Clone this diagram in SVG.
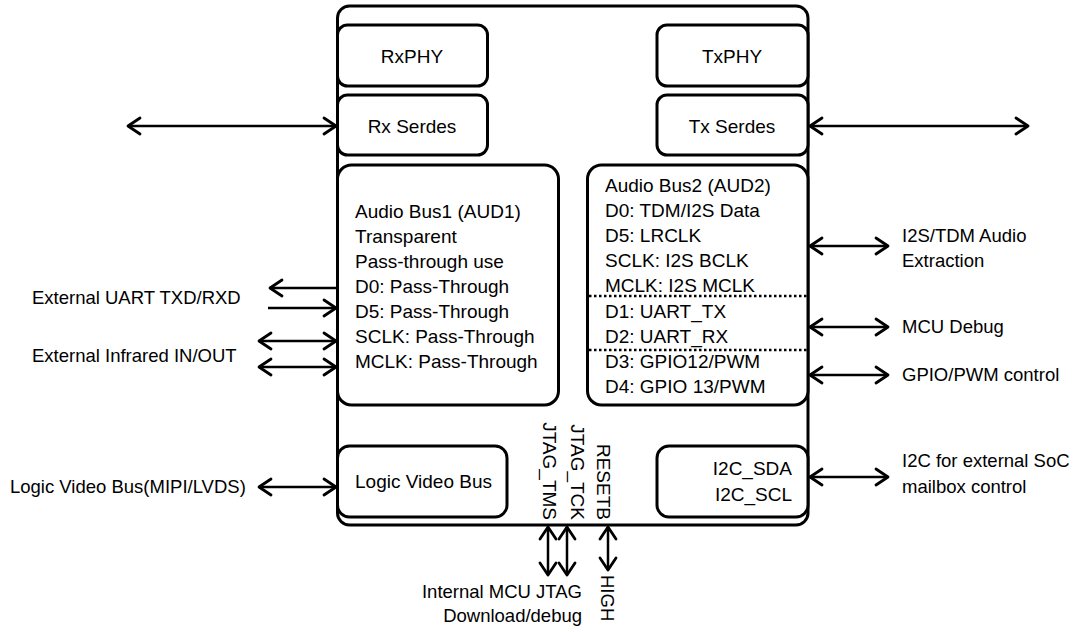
<svg xmlns="http://www.w3.org/2000/svg" width="1080" height="632" viewBox="0 0 1080 632">
  <style>
    .box { fill: #ffffff; stroke: #000000; stroke-width: 3; }
    .t { font-family: "Liberation Sans", Arial, sans-serif; font-size: 19px; fill: #000000; }
    .lbl { font-family: "Liberation Sans", Arial, sans-serif; font-size: 18.5px; fill: #000000; }
    .mid { text-anchor: middle; }
    .end { text-anchor: end; }
    .wire { stroke: #000000; stroke-width: 2.5; fill: none; }
    .dots { stroke: #000000; stroke-width: 2.5; stroke-dasharray: 2.5 2.5; fill: none; }
  </style>
  <defs>
    <!-- open chevron head; tip at (14,10) points along the line direction -->
    <marker id="head" viewBox="0 0 16 20" refX="14" refY="10" markerWidth="16" markerHeight="20" markerUnits="userSpaceOnUse" orient="auto-start-reverse">
      <path d="M2,2 L14,10 L2,18" fill="none" stroke="#000000" stroke-width="2.8" stroke-linecap="round" stroke-linejoin="round"/>
    </marker>
  </defs>

  <rect width="1080" height="632" fill="#ffffff"/>

  <!-- chip outline -->
  <g id="chip">
    <rect class="box" x="337.5" y="6" width="470.5" height="519" rx="12"/>
  </g>

  <g id="rxphy">
    <rect class="box" x="337.5" y="25" width="150" height="61" rx="10"/>
    <text class="t mid" x="412" y="63">RxPHY</text>
  </g>
  <g id="rxserdes">
    <rect class="box" x="337.5" y="95" width="150" height="60" rx="10"/>
    <text class="t mid" x="412" y="133">Rx Serdes</text>
  </g>
  <g id="txphy">
    <rect class="box" x="657" y="25" width="151" height="61" rx="10"/>
    <text class="t mid" x="732" y="63">TxPHY</text>
  </g>
  <g id="txserdes">
    <rect class="box" x="657" y="95" width="151" height="60" rx="10"/>
    <text class="t mid" x="732" y="133">Tx Serdes</text>
  </g>

  <g id="aud1">
    <rect class="box" x="337.5" y="165" width="221" height="240" rx="14"/>
    <text class="t" x="355" y="218">Audio Bus1 (AUD1)</text>
    <text class="t" x="355" y="243">Transparent</text>
    <text class="t" x="355" y="268">Pass-through use</text>
    <text class="t" x="355" y="293">D0: Pass-Through</text>
    <text class="t" x="355" y="318">D5: Pass-Through</text>
    <text class="t" x="355" y="343">SCLK: Pass-Through</text>
    <text class="t" x="355" y="368">MCLK: Pass-Through</text>
  </g>

  <g id="aud2">
    <rect class="box" x="587.5" y="165" width="220.5" height="240" rx="14"/>
    <text class="t" x="605" y="192">Audio Bus2 (AUD2)</text>
    <text class="t" x="605" y="217">D0: TDM/I2S Data</text>
    <text class="t" x="605" y="242">D5: LRCLK</text>
    <text class="t" x="605" y="267">SCLK: I2S BCLK</text>
    <text class="t" x="605" y="292">MCLK: I2S MCLK</text>
    <line class="dots" x1="589" y1="296" x2="807" y2="296"/>
    <text class="t" x="605" y="318">D1: UART_TX</text>
    <text class="t" x="605" y="343">D2: UART_RX</text>
    <line class="dots" x1="589" y1="350" x2="807" y2="350"/>
    <text class="t" x="605" y="368">D3: GPIO12/PWM</text>
    <text class="t" x="605" y="393">D4: GPIO 13/PWM</text>
  </g>

  <g id="videobus">
    <rect class="box" x="337.5" y="446" width="169.5" height="71" rx="12"/>
    <text class="t" x="355" y="488">Logic Video Bus</text>
  </g>

  <g id="i2c">
    <rect class="box" x="657" y="446" width="151" height="71" rx="12"/>
    <text class="t end" x="792" y="475">I2C_SDA</text>
    <text class="t end" x="792" y="501">I2C_SCL</text>
  </g>

  <!-- pin names along the bottom edge -->
  <g id="pins">
    <text class="t end" transform="translate(543,520) rotate(90)" x="0" y="0">JTAG_TMS</text>
    <text class="t end" transform="translate(571,520) rotate(90)" x="0" y="0">JTAG_TCK</text>
    <text class="t end" transform="translate(597,520) rotate(90)" x="0" y="0">RESETB</text>
  </g>

  <!-- connectors -->
  <g id="connectors">
    <line class="wire" x1="128" y1="126" x2="336" y2="126" marker-start="url(#head)" marker-end="url(#head)"/>
    <line class="wire" x1="810" y1="126" x2="1028" y2="126" marker-start="url(#head)" marker-end="url(#head)"/>

    <line class="wire" x1="270" y1="288" x2="336" y2="288" marker-start="url(#head)"/>
    <line class="wire" x1="268" y1="308" x2="336" y2="308" marker-end="url(#head)"/>
    <line class="wire" x1="259" y1="341" x2="336" y2="341" marker-start="url(#head)" marker-end="url(#head)"/>
    <line class="wire" x1="259" y1="367" x2="336" y2="367" marker-start="url(#head)" marker-end="url(#head)"/>
    <line class="wire" x1="259" y1="487" x2="336" y2="487" marker-start="url(#head)" marker-end="url(#head)"/>

    <line class="wire" x1="810" y1="246" x2="888" y2="246" marker-start="url(#head)" marker-end="url(#head)"/>
    <line class="wire" x1="810" y1="327" x2="888" y2="327" marker-start="url(#head)" marker-end="url(#head)"/>
    <line class="wire" x1="810" y1="375" x2="888" y2="375" marker-start="url(#head)" marker-end="url(#head)"/>
    <line class="wire" x1="810" y1="477" x2="888" y2="477" marker-start="url(#head)" marker-end="url(#head)"/>

    <line class="wire" x1="548" y1="527" x2="548" y2="575" marker-start="url(#head)" marker-end="url(#head)"/>
    <line class="wire" x1="567" y1="527" x2="567" y2="575" marker-start="url(#head)" marker-end="url(#head)"/>
    <line class="wire" x1="608" y1="527" x2="608" y2="570" marker-start="url(#head)" marker-end="url(#head)"/>
  </g>

  <!-- external labels -->
  <g id="labels">
    <text class="lbl" x="32" y="304">External UART TXD/RXD</text>
    <text class="lbl" x="32" y="362">External Infrared IN/OUT</text>
    <text class="lbl" x="10" y="493">Logic Video Bus(MIPI/LVDS)</text>
    <text class="lbl" x="902" y="242">I2S/TDM Audio</text>
    <text class="lbl" x="902" y="267">Extraction</text>
    <text class="lbl" x="902" y="333">MCU Debug</text>
    <text class="lbl" x="902" y="381">GPIO/PWM control</text>
    <text class="lbl" x="902" y="467">I2C for external SoC</text>
    <text class="lbl" x="902" y="493">mailbox control</text>
    <text class="lbl end" x="582" y="598">Internal MCU JTAG</text>
    <text class="lbl end" x="582" y="622">Download/debug</text>
    <text class="lbl" transform="translate(601,575) rotate(90)" x="0" y="0">HIGH</text>
  </g>
</svg>
